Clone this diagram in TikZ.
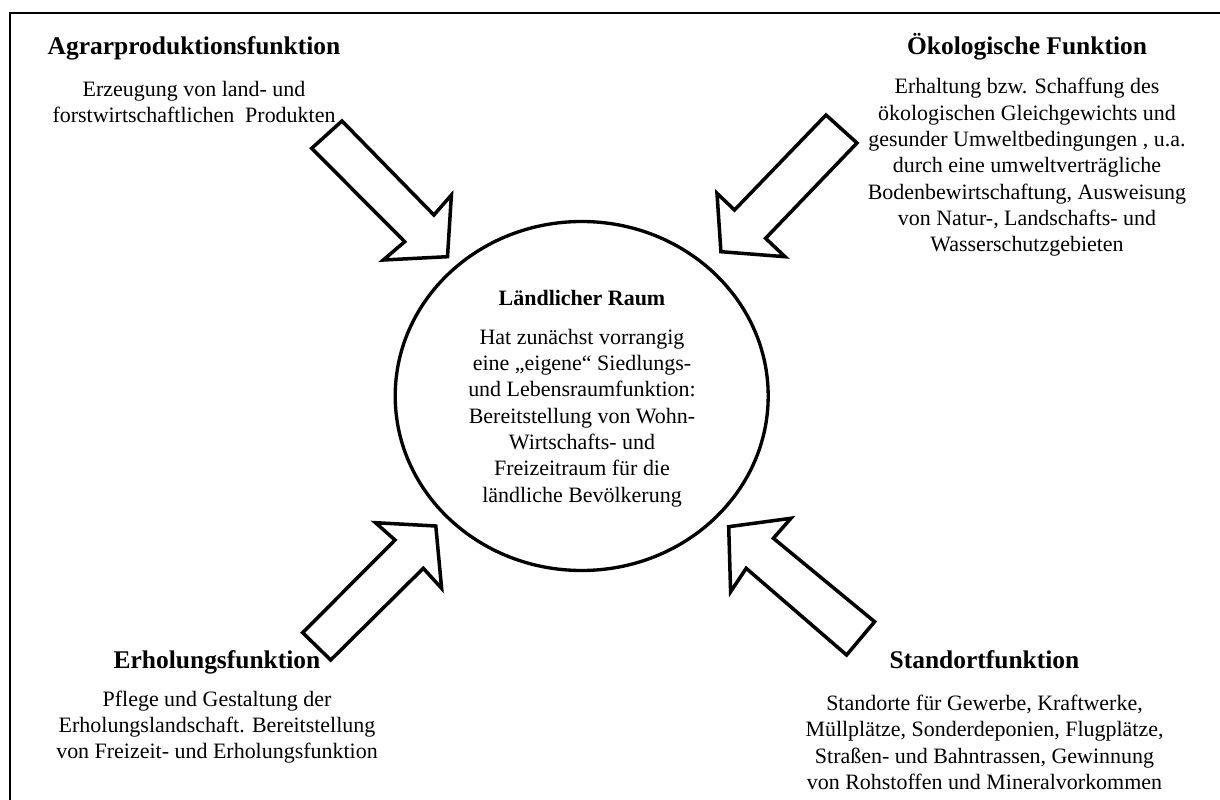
\documentclass[tikz,border=0pt]{standalone}
\usepackage{fontspec}
\setmainfont{Liberation Serif}
\tikzset{
  blockarrow/.style={draw, line width=2pt, fill=white, line join=miter},
  headline/.style={font=\fontsize{14.5}{17}\selectfont\bfseries, anchor=base, inner sep=0pt},
  bodytext/.style={font=\fontsize{12.5}{15}\selectfont, align=center, inner sep=0pt},
}
\begin{document}
\begin{tikzpicture}[x=0.02cm, y=-0.02cm]
			\useasboundingbox (0,0) rectangle (1220,800);
			%%%%% FRAME %%%%%
			\draw[line width=1.1pt] (9.7,810) -- (9.7,12.7) -- (1230,12.7);
			
			%%%%% CENTRE %%%%%
			\draw[line width=1.9pt] (581.7,396) ellipse (186.5 and 174.5);
			\node[headline, font=\fontsize{12.5}{15}\selectfont\bfseries] (raum) at (582,306) {Ländlicher Raum};
			\node[bodytext] (raumtext) at (582,418) {Hat zunächst vorrangig\\eine „eigene“ Siedlungs-\\und Lebensraumfunktion:\\Bereitstellung von Wohn-\\Wirtschafts- und\\Freizeitraum für die\\ländliche Bevölkerung};
			
			%%%%% CORNERS %%%%%
			\node[headline] (agrar) at (194,55) {Agrarproduktionsfunktion};
			\node[bodytext] (agrartext) at (194,102) {Erzeugung von land- und\\forstwirtschaftlichen\ \ Produkten};
			
			\node[headline] (oeko) at (1027,55) {Ökologische Funktion};
			\node[bodytext] (oekotext) at (1027,167.5) {Erhaltung bzw. Schaffung des\\ökologischen Gleichgewichts und\\gesunder Umweltbedingungen , u.a.\\durch eine umweltverträgliche\\Bodenbewirtschaftung, Ausweisung\\von Natur-, Landschafts- und\\Wasserschutzgebieten};
			
			\node[headline] (erholung) at (217,668.3) {Erholungsfunktion};
			\node[bodytext] (erholungtext) at (217,727) {Pflege und Gestaltung der\\Erholungslandschaft. Bereitstellung\\von Freizeit- und Erholungsfunktion};
			
			\node[headline] (standort) at (984.5,668.3) {Standortfunktion};
			\node[bodytext] (standorttext) at (984.5,742.5) {Standorte für Gewerbe, Kraftwerke,\\Müllplätze, Sonderdeponien, Flugplätze,\\Straßen- und Bahntrassen, Gewinnung\\von Rohstoffen und Mineralvorkommen};
			
			%%%%% ARROWS %%%%%
			\draw[blockarrow] (342,121) -- (433.9,215) -- (451.4,195) -- (447.5,256.7) -- (383.3,260) -- (404.7,241.7) -- (311.7,148.3) -- cycle;
			\draw[blockarrow] (826,115) -- (857,143) -- (765.6,238.3) -- (785,256.7) -- (720.9,251.7) -- (717,193.3) -- (734.5,210) -- cycle;
			\draw[blockarrow] (302.7,632.7) -- (330.7,660) -- (423.3,568.3) -- (441.6,588.3) -- (435.8,526) -- (375.5,522.7) -- (395,540) -- cycle;
			\draw[blockarrow] (874.6,621.7) -- (846.6,655) -- (746.2,568.3) -- (730.6,591.7) -- (728.7,526.7) -- (790.9,518.3) -- (773.4,538.3) -- cycle;
			%%%%% END %%%%%
\end{tikzpicture}
\end{document}
